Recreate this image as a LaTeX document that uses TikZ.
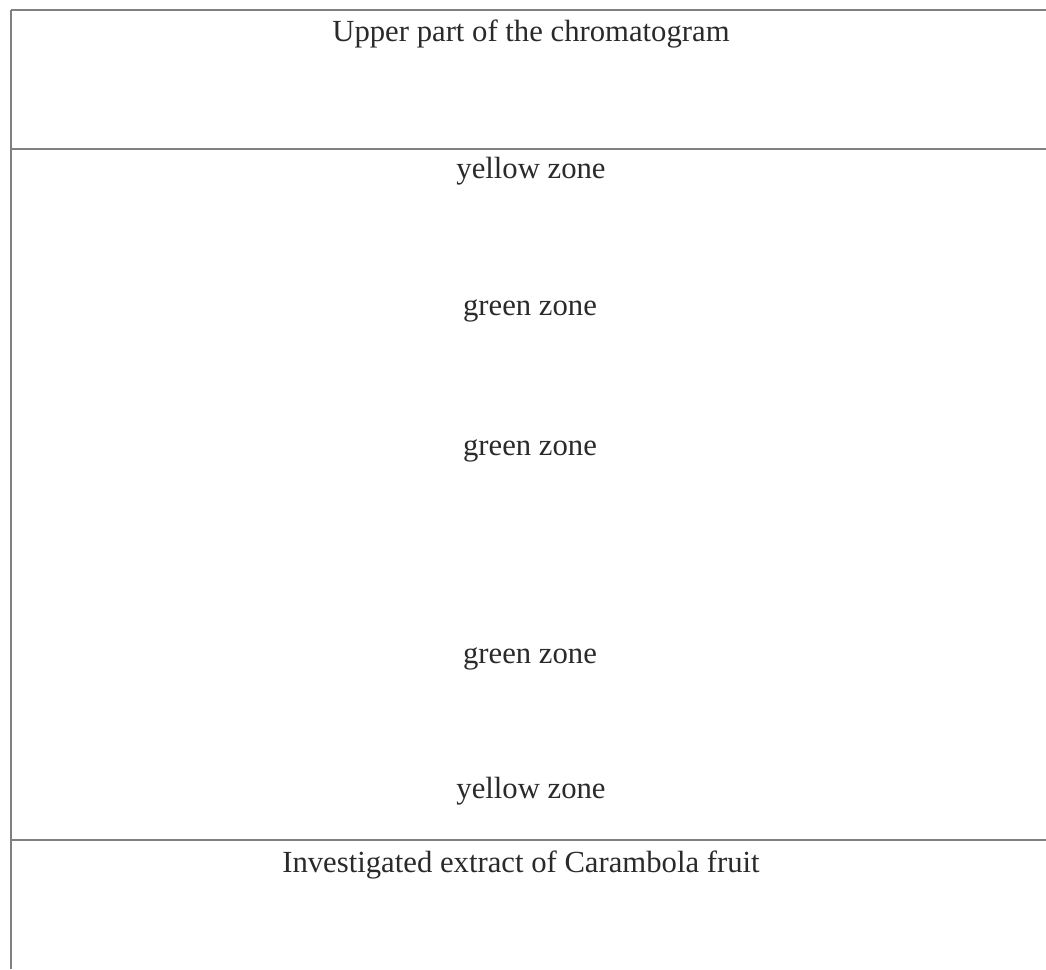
\documentclass[tikz,border=0pt]{standalone}
\usepackage{fontspec}
\setmainfont{Liberation Serif}
\definecolor{rule}{HTML}{808080}
\definecolor{txt}{HTML}{2A2A2A}
\begin{document}
\begin{tikzpicture}[x=1pt,y=-1pt,
  rulel/.style={draw=rule,line width=2pt},
  lbl/.style={anchor=base,inner sep=0pt,text=txt,font=\fontsize{30.7}{36}\selectfont}]
\useasboundingbox (0,0) rectangle (1046,969);
\draw[rulel] (11,10) -- (1046,10);
\draw[rulel] (11,149) -- (1046,149);
\draw[rulel] (11,840) -- (1046,840);
\draw[rulel] (11,10) -- (11,969);
\node[lbl] (top) at (531,41) {Upper part of the chromatogram};
\node[lbl] (y1) at (531,178) {yellow zone};
\node[lbl] (g1) at (530,315) {green zone};
\node[lbl] (g2) at (530,455) {green zone};
\node[lbl] (g3) at (530,663) {green zone};
\node[lbl] (y2) at (531,798) {yellow zone};
\node[lbl] (bot) at (521,872) {Investigated extract of Carambola fruit};
\end{tikzpicture}
\end{document}
